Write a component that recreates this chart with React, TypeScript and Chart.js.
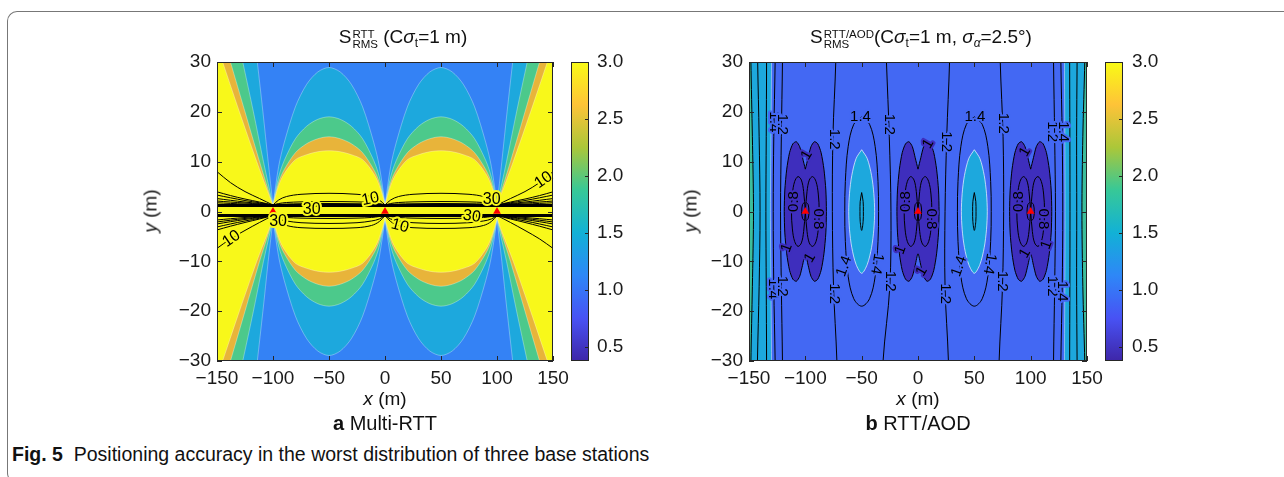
import React, { useEffect, useRef } from 'react';
import { Chart, registerables } from 'chart.js';

Chart.register(...registerables);

const FONT = '"Liberation Sans", Arial, Helvetica, sans-serif';

// ---------------- shared axes ----------------
const X_TICKS = [-150, -100, -50, 0, 50, 100, 150];
const Y_TICKS = [-30, -20, -10, 0, 10, 20, 30];
const X_RANGE = [-150, 150];
const Y_RANGE = [-30, 30];
const STATION_X = [-100, 0, 100];
const STATION_Y = [0, 0, 0];

// ---------------- colour bar ----------------
const CB_TICKS = [0.5, 1.0, 1.5, 2.0, 2.5, 3.0];
const CB_RANGE = [0.375, 3.0];
const CB_STOP_VALUES = [0.375, 0.75, 1.125, 1.5, 1.875, 2.25, 2.625, 3.0];
const CB_STOP_COLORS = ['#3E26A8', '#4852F4', '#2E87F7', '#12B1D6', '#37C897', '#ABC739', '#FEC338', '#F9FB15'];

// ---------------- (a) Multi-RTT ----------------
// filled bands between stations (upper half, mirrored below)
const RTT_HILL_CENTERS = [-50, 50];
const RTT_HILL_DX = [-50, -45, -40, -30, -20, -10, 0, 10, 20, 30, 40, 45, 50];
const RTT_HILL_BLUE = [1.2, 9.0, 13.8, 21.0, 25.5, 28.0, 28.9, 28.0, 25.5, 21.0, 13.8, 9.0, 1.2];
const RTT_HILL_GREEN = [1.2, 6.9, 10.2, 14.6, 17.1, 18.5, 19.0, 18.5, 17.1, 14.6, 10.2, 6.9, 1.2];
const RTT_HILL_ORANGE = [1.2, 5.8, 8.4, 11.8, 13.6, 14.6, 15.0, 14.6, 13.6, 11.8, 8.4, 5.8, 1.2];
const RTT_HILL_YELLOW = [1.2, 5.2, 7.6, 10.4, 11.4, 12.0, 12.2, 12.0, 11.4, 10.4, 7.6, 5.2, 1.2];
// outer wedges beyond the outer stations: outward offset of each boundary at these heights
const RTT_WEDGE_Y = [1.2, 10, 20, 30, 40];
const RTT_WEDGE_BLUE = [0, 4.3, 9, 14, 19];
const RTT_WEDGE_GREEN = [0, 8.5, 17.5, 27, 36.5];
const RTT_WEDGE_ORANGE = [0, 12, 25, 38, 51];
const RTT_WEDGE_YELLOW = [0, 14.5, 30, 45, 60];
// contour lines fanning out beyond the outer stations (left side x; right side mirrored)
const RTT_FAN_X = [-100, -112, -125, -138, -150, -160];
const RTT_FAN_UP = [
  [1.3, 2.6, 4.0, 5.8, 8.0, 9.8],
  [1.3, 1.9, 2.5, 3.2, 3.95, 4.6],
  [1.3, 1.75, 2.2, 2.75, 3.3, 3.8],
  [1.3, 1.6, 1.9, 2.25, 2.6, 2.9],
  [1.3, 1.5, 1.7, 1.9, 2.1, 2.3],
  [1.3, 1.4, 1.5, 1.62, 1.75, 1.85],
];
const RTT_FAN_DOWN = [
  [-0.8, -2.2, -3.8, -5.5, -7.4, -9.0],
  [-0.8, -1.5, -2.2, -2.95, -3.7, -4.3],
  [-0.8, -1.35, -1.9, -2.5, -3.1, -3.6],
  [-0.8, -1.2, -1.6, -2.05, -2.5, -2.9],
  [-0.8, -1.1, -1.4, -1.75, -2.1, -2.4],
  [-0.8, -1.0, -1.2, -1.45, -1.7, -1.9],
];
// contour arcs between stations
const RTT_ARC_DX = [-50, -45, -38, -25, 0, 25, 38, 45, 50];
const RTT_ARCS_UP = [
  [1.3, 2.3, 3.0, 3.45, 3.65, 3.45, 3.0, 2.3, 1.3],
  [1.3, 1.6, 1.8, 1.93, 2.0, 1.93, 1.8, 1.6, 1.3],
  [1.3, 1.42, 1.5, 1.56, 1.6, 1.56, 1.5, 1.42, 1.3],
];
const RTT_ARCS_DOWN = [
  [-0.8, -1.0, -1.2, -1.33, -1.4, -1.33, -1.2, -1.0, -0.8],
  [-0.8, -1.5, -1.9, -2.25, -2.4, -2.25, -1.9, -1.5, -0.8],
  [-0.8, -2.0, -2.8, -3.25, -3.4, -3.25, -2.8, -2.0, -0.8],
];
const RTT_THICK_Y = [1.2, -0.8];
const RTT_LABEL_TEXT = ['10', '30', '30', '10', '30', '30', '10', '10'];
const RTT_LABEL_X = [-13, -65.5, -95.5, 13.4, 77.5, 95.3, 141.6, -137];
const RTT_LABEL_Y = [2.5, 0.3, -2.1, -2.9, -1.0, 2.4, 6.3, -5.5];
const RTT_LABEL_ROT = [-12, 0, 0, 15, 8, 0, -35, -35];

// ---------------- (b) RTT/AOD ----------------
const AOD_EDGE_Y = [-40, -30, -15, 0, 15, 30, 40];
const AOD_L_STRIP = [-130, -130, -130.5, -131, -130.5, -130, -130];
const AOD_R_STRIP = [130, 130, 130.3, 130.5, 130.3, 130, 130];
const AOD_L_TEAL = [-148.5, -148.3, -147, -146, -147, -148.3, -148.5];
const AOD_R_TEAL = [148.5, 148, 146.3, 145.5, 146.3, 148, 148.5];
const AOD_EDGE_LINES = [
  [-142.8, -142.5, -141, -140.2, -141, -142.3, -142.6],
  [-134.5, -134.4, -134.7, -135, -134.7, -134.4, -134.5],
  [-126.5, -126.8, -128, -128.5, -128, -126.8, -126.5],
  [-120, -120.3, -121.3, -122, -121.3, -120.3, -120],
  [141.5, 141.2, 140.8, 140.9, 140.8, 141.2, 141.5],
  [134.6, 134.6, 134.8, 134.9, 134.8, 134.6, 134.6],
  [126.5, 126.8, 128, 128.5, 128, 126.8, 126.5],
  [120, 120.3, 121.3, 122, 121.3, 120.3, 120],
];
const AOD_HILL_LINES = [
  [-71.5, -72, -75, -76, -75.5, -73, -72.5],
  [-31.5, -31, -25, -24, -25.5, -28, -29.5],
  [27.5, 27, 24, 24, 25.5, 28, 28.5],
  [71.5, 72, 75, 76, 75.5, 73, 72.5],
];
const AOD_HILL_CENTERS = [-50, 50];
const AOD_ELL_DX = [0, 5, 8.8, 10.8, 11.5, 10.8, 8.8, 5, 0, -5, -8.8, -10.8, -11.5, -10.8, -8.8, -5, 0];
const AOD_ELL_DY = [12.4, 10.6, 7.2, 3.6, 0, -3.6, -7.2, -10.6, -12.4, -10.6, -7.2, -3.6, 0, 3.6, 7.2, 10.6, 12.4];
const AOD_L14_DX = [0, 7, 12, 14.5, 15, 14.5, 12, 7, 0, -7, -12, -14.5, -15, -14.5, -12, -7, 0];
const AOD_L14_DY = [19, 17.5, 13, 6, 0, -6, -13, -17.5, -19, -17.5, -13, -6, 0, 6, 13, 17.5, 19];
const AOD_L16_DX = [0, 1.3, 1.5, 1.3, 0, -1.3, -1.5, -1.3, 0];
const AOD_L16_DY = [3.8, 2, 0, -2, -3.8, -2, 0, 2, 3.8];
const AOD_LOBE_DX = [0, 2.5, 5, 8, 11, 14, 16.5, 18.2, 18.7, 18.2, 16.5, 14, 11, 8, 5, 2.5, 0, -2.5, -5, -8, -11, -14, -16.5, -18.2, -18.7, -18.2, -16.5, -14, -11, -8, -5, -2.5];
const AOD_LOBE_DY = [8.5, 10.8, 13, 14, 13.6, 11.8, 8.5, 4.3, 0, -4.3, -8.5, -11.8, -13.6, -14, -13, -10.8, -8.5, -10.8, -13, -14, -13.6, -11.8, -8.5, -4.3, 0, 4.3, 8.5, 11.8, 13.6, 14, 13, 10.8];
const AOD_L08_DX = [0, 1.5, 3.5, 6.5, 9.5, 11.5, 12.3, 11.5, 9.5, 6.5, 3.5, 1.5, 0];
const AOD_L08_DY = [0, 4, 6.3, 7, 6, 3.5, 0, -3.5, -6, -7, -6.3, -4, 0];
const AOD_L06_DX = [1, 2.5, 3.2, 2.5, 1];
const AOD_L06_DY = [1.8, 1.4, 0, -1.4, -1.8];
const AOD_LABEL_TEXT = ['1.4', '1.2', '1.4', '1.2', '1.2', '1.2', '1.4', '1.4', '1.4', '1.2', '1.2', '1.2', '1.2', '1.4', '1.4', '1.4', '1.2', '1.2', '1.2', '1.4', '1.2', '1.4',
  '0.8', '0.8', '1', '1', '1', '0.8', '0.8', '1', '1', '1', '0.8', '0.8', '1', '1', '1'];
const AOD_LABEL_X = [-128, -120.5, -129, -120.5, -74.5, -74.5, -51, -65.5, -36.5, -25.5, -24.5, 25, 24, 50.5, 36.5, 63.5, 75.5, 74.8, 119.5, 128.5, 119, 128,
  -110.5, -88.5, -98.8, -116.5, -95.8, -10.5, 11.5, 9.2, -15.5, 3.3, 89.5, 111.5, 95, 114, 95];
const AOD_LABEL_Y = [18, 17.5, -15.5, -15, 14.5, -16.5, 19, -11, -10.5, 17.5, -14, 14, -16.5, 19, -11, -10.5, 17.7, -14, 16, 16, -15, -16,
  2, -1.5, 11.3, -7.3, -9.3, 2, -1.5, 13.6, -7.7, -12, 2, -1.5, 12, -6.7, -8.4];
const AOD_LABEL_ROT = [90, 90, 90, 90, 90, 90, 0, -70, 100, 90, 90, 90, 90, 0, -70, 100, 90, 90, 90, 90, 90, 90,
  -90, 90, -60, -70, -60, -90, 90, -60, -70, -60, -90, 90, -60, -70, -60];
const AOD_LABEL_ON_LOBE = [0, 0, 0, 0, 0, 0, 0, 0, 0, 0, 0, 0, 0, 0, 0, 0, 0, 0, 0, 0, 0, 0,
  1, 1, 1, 1, 1, 1, 1, 1, 1, 1, 1, 1, 1, 1, 1];

// ---------------- styles ----------------
const RTT_COL = { deep: '#3482F5', light: '#1DA8DD', green: '#4CC98B', orange: '#E8B43A', yellow: '#F8F81A' };
const AOD_COL = { mid: '#4368F3', dark: '#3E2EBD', light: '#1DA8DD', teal: '#3DBE9C' };
const EDGE = 'rgba(255,255,255,0.45)';
const NONE = 'rgba(0,0,0,0)';
const INK = '#1a1a1a';

type XY = { x: number; y: number };
const zip = (xs: number[], ys: number[]): XY[] => xs.map((x, i) => ({ x, y: ys[i] }));
const rect = (x0: number, x1: number, y0: number, y1: number): XY[] => [
  { x: x0, y: y0 }, { x: x1, y: y0 }, { x: x1, y: y1 }, { x: x0, y: y1 }, { x: x0, y: y0 },
];

function shape(data: XY[], color: string, edge = EDGE, edgeW = 0.7, tension = 0.3) {
  return { data, fill: 'shape', backgroundColor: color, borderColor: edge, borderWidth: edgeW, pointRadius: 0, tension, clip: 0 };
}
function line(data: XY[], width = 1, color = '#000', tension = 0.35) {
  return { data, fill: false, borderColor: color, borderWidth: width, pointRadius: 0, tension, clip: 0 };
}
function markers() {
  return {
    data: zip(STATION_X, STATION_Y), showLine: false, pointStyle: 'triangle', pointRadius: 4.5,
    pointBackgroundColor: '#FF0000', pointBorderColor: '#FF0000', pointBorderWidth: 0, clip: 0,
  };
}
function ordered(sets: any[]) {
  sets.forEach((d, i) => { d.order = 10000 - i; });
  return sets;
}

function rttDatasets() {
  const out: any[] = [];
  out.push(shape(rect(-175, 175, -40, 40), RTT_COL.deep, NONE, 0, 0));
  const bands: [number[], number[], string][] = [
    [RTT_HILL_BLUE, RTT_WEDGE_BLUE, RTT_COL.light],
    [RTT_HILL_GREEN, RTT_WEDGE_GREEN, RTT_COL.green],
    [RTT_HILL_ORANGE, RTT_WEDGE_ORANGE, RTT_COL.orange],
    [RTT_HILL_YELLOW, RTT_WEDGE_YELLOW, RTT_COL.yellow],
  ];
  const outer = [STATION_X[0], STATION_X[2]];
  for (const [hill, wedge, col] of bands) {
    for (const c of RTT_HILL_CENTERS) {
      const up = RTT_HILL_DX.map((d, i) => ({ x: c + d, y: hill[i] }));
      const dn = RTT_HILL_DX.map((d, i) => ({ x: c + d, y: -hill[i] })).reverse();
      out.push(shape([...up, ...dn, up[0]], col));
    }
    for (const sx of outer) {
      const s = Math.sign(sx);
      const up = RTT_WEDGE_Y.map((y, i) => ({ x: sx + s * wedge[i], y }));
      const dn = RTT_WEDGE_Y.map((y, i) => ({ x: sx + s * wedge[i], y: -y })).reverse();
      out.push(shape([...up, { x: s * 175, y: 40 }, { x: s * 175, y: -40 }, ...dn, up[0]], col));
    }
  }
  out.push(shape(rect(-175, 175, RTT_THICK_Y[1], RTT_THICK_Y[0]), RTT_COL.yellow, NONE, 0, 0));
  for (const s of [1, -1]) {
    for (const arr of [...RTT_FAN_UP, ...RTT_FAN_DOWN]) {
      out.push(line(RTT_FAN_X.map((x, i) => ({ x: s * x, y: arr[i] }))));
    }
  }
  for (const c of RTT_HILL_CENTERS) {
    for (const arr of [...RTT_ARCS_UP, ...RTT_ARCS_DOWN]) {
      out.push(line(RTT_ARC_DX.map((d, i) => ({ x: c + d, y: arr[i] }))));
    }
  }
  for (const y of RTT_THICK_Y) out.push(line([{ x: -150, y }, { x: 150, y }], 3, '#000', 0));
  out.push(markers());
  return ordered(out);
}

function aodDatasets() {
  const out: any[] = [];
  out.push(shape(rect(-175, 175, -40, 40), AOD_COL.mid, NONE, 0, 0));
  const y0 = AOD_EDGE_Y[0];
  out.push(shape([...zip(AOD_L_STRIP, AOD_EDGE_Y), { x: -175, y: 40 }, { x: -175, y: -40 }, { x: AOD_L_STRIP[0], y: y0 }], AOD_COL.light, 'rgba(255,255,255,0.55)', 0.8));
  out.push(shape([...zip(AOD_R_STRIP, AOD_EDGE_Y), { x: 175, y: 40 }, { x: 175, y: -40 }, { x: AOD_R_STRIP[0], y: y0 }], AOD_COL.light, 'rgba(255,255,255,0.55)', 0.8));
  out.push(shape([...zip(AOD_L_TEAL, AOD_EDGE_Y), { x: -175, y: 40 }, { x: -175, y: -40 }, { x: AOD_L_TEAL[0], y: y0 }], AOD_COL.teal, '#000', 1));
  out.push(shape([...zip(AOD_R_TEAL, AOD_EDGE_Y), { x: 175, y: 40 }, { x: 175, y: -40 }, { x: AOD_R_TEAL[0], y: y0 }], AOD_COL.teal, '#000', 1));
  for (const c of AOD_HILL_CENTERS) {
    out.push(shape(zip(AOD_ELL_DX.map((d) => c + d), AOD_ELL_DY), AOD_COL.light, 'rgba(255,255,255,0.75)', 0.9));
  }
  for (const c of STATION_X) {
    const pts = zip(AOD_LOBE_DX.map((d) => c + d), AOD_LOBE_DY);
    out.push(shape([...pts, pts[0]], AOD_COL.dark, '#000', 1, 0.25));
  }
  for (const xs of AOD_EDGE_LINES) out.push(line(zip(xs, AOD_EDGE_Y)));
  for (const xs of AOD_HILL_LINES) out.push(line(zip(xs, AOD_EDGE_Y)));
  for (const c of AOD_HILL_CENTERS) {
    out.push(line(zip(AOD_L14_DX.map((d) => c + d), AOD_L14_DY)));
    out.push(line(zip(AOD_L16_DX.map((d) => c + d), AOD_L16_DY)));
  }
  for (const c of STATION_X) {
    for (const s of [1, -1]) {
      out.push(line(zip(AOD_L08_DX.map((d) => c + s * d), AOD_L08_DY)));
      out.push(line(zip(AOD_L06_DX.map((d) => c + s * d), AOD_L06_DY)));
    }
  }
  out.push(markers());
  return ordered(out);
}

function rttLabels() {
  return RTT_LABEL_TEXT.map((t, i) => ({ t, x: RTT_LABEL_X[i], y: RTT_LABEL_Y[i], r: RTT_LABEL_ROT[i], bg: RTT_COL.yellow }));
}
function aodLabels() {
  return AOD_LABEL_TEXT.map((t, i) => ({
    t, x: AOD_LABEL_X[i], y: AOD_LABEL_Y[i], r: AOD_LABEL_ROT[i], bg: AOD_LABEL_ON_LOBE[i] ? AOD_COL.dark : AOD_COL.mid,
  }));
}

const fmtTick = (v: number) => (v < 0 ? '\u2212' + Math.abs(v) : String(v));

function labelPlugin(items: any[], size: number) {
  return {
    id: 'clabels',
    afterDatasetsDraw(chart: any) {
      const { ctx, scales } = chart;
      ctx.save();
      ctx.font = `${size}px ${FONT}`;
      ctx.textAlign = 'center';
      ctx.textBaseline = 'middle';
      ctx.lineJoin = 'round';
      for (const it of items) {
        const px = scales.x.getPixelForValue(it.x);
        const py = scales.y.getPixelForValue(it.y);
        ctx.save();
        ctx.translate(px, py);
        ctx.rotate((it.r * Math.PI) / 180);
        ctx.lineWidth = 4;
        ctx.strokeStyle = it.bg;
        ctx.strokeText(it.t, 0, 0);
        ctx.fillStyle = '#000';
        ctx.fillText(it.t, 0, 0);
        ctx.restore();
      }
      ctx.restore();
    },
  };
}

const framePlugin = {
  id: 'frame',
  afterDatasetsDraw(chart: any) {
    const { ctx, chartArea: a, scales } = chart;
    ctx.save();
    ctx.strokeStyle = '#262626';
    ctx.lineWidth = 1;
    ctx.strokeRect(a.left + 0.5, a.top + 0.5, a.right - a.left - 1, a.bottom - a.top - 1);
    const tl = 5;
    ctx.beginPath();
    for (const v of X_TICKS) {
      const px = Math.round(scales.x.getPixelForValue(v)) + 0.5;
      ctx.moveTo(px, a.bottom); ctx.lineTo(px, a.bottom - tl);
      ctx.moveTo(px, a.top); ctx.lineTo(px, a.top + tl);
    }
    for (const v of Y_TICKS) {
      const py = Math.round(scales.y.getPixelForValue(v)) + 0.5;
      ctx.moveTo(a.left, py); ctx.lineTo(a.left + tl, py);
      ctx.moveTo(a.right, py); ctx.lineTo(a.right - tl, py);
    }
    ctx.stroke();
    ctx.restore();
  },
};

const cbFramePlugin = {
  id: 'cbframe',
  afterDatasetsDraw(chart: any) {
    const { ctx, chartArea: a, scales } = chart;
    ctx.save();
    ctx.strokeStyle = '#262626';
    ctx.lineWidth = 1;
    ctx.strokeRect(a.left + 0.5, a.top + 0.5, a.right - a.left - 1, a.bottom - a.top - 1);
    ctx.beginPath();
    for (const v of CB_TICKS) {
      const py = Math.round(scales.y.getPixelForValue(v)) + 0.5;
      ctx.moveTo(a.right, py); ctx.lineTo(a.right - 4, py);
    }
    ctx.stroke();
    ctx.restore();
  },
};

function ContourPanel({ left, top, padRight, kind }: any) {
  const ref = useRef<HTMLCanvasElement>(null);
  useEffect(() => {
    const datasets = kind === 'rtt' ? rttDatasets() : aodDatasets();
    const labels = kind === 'rtt' ? rttLabels() : aodLabels();
    const tickFont = { family: FONT, size: 19 };
    const chart = new Chart(ref.current as HTMLCanvasElement, {
      type: 'line',
      data: { datasets } as any,
      options: {
        responsive: false,
        animation: false,
        events: [],
        devicePixelRatio: 1,
        layout: { padding: { left: 7, right: padRight, top: 22, bottom: 9 } },
        elements: { line: { capBezierPoints: false } },
        plugins: { legend: { display: false }, tooltip: { enabled: false } },
        scales: {
          x: {
            type: 'linear', min: X_RANGE[0], max: X_RANGE[1],
            afterBuildTicks: (s: any) => { s.ticks = X_TICKS.map((value) => ({ value })); },
            afterFit: (s: any) => { s.height = 40; },
            ticks: { callback: (v: any) => fmtTick(Number(v)), font: tickFont, color: INK, padding: 6, maxRotation: 0, autoSkip: false },
            grid: { display: false, drawTicks: false },
            border: { display: false },
          },
          y: {
            type: 'linear', min: Y_RANGE[0], max: Y_RANGE[1],
            afterBuildTicks: (s: any) => { s.ticks = Y_TICKS.map((value) => ({ value })); },
            afterFit: (s: any) => { s.width = 70; },
            ticks: { callback: (v: any) => fmtTick(Number(v)), font: tickFont, color: INK, padding: 6, autoSkip: false },
            grid: { display: false, drawTicks: false },
            border: { display: false },
          },
        },
      } as any,
      plugins: [labelPlugin(labels, kind === 'rtt' ? 16 : 15), framePlugin],
    });
    return () => chart.destroy();
  }, [kind]);
  return <canvas ref={ref} width={440} height={370} style={{ position: 'absolute', left, top, width: 440, height: 370 }} />;
}

function ColorBar({ left, top, labelPad }: any) {
  const ref = useRef<HTMLCanvasElement>(null);
  useEffect(() => {
    const chart = new Chart(ref.current as HTMLCanvasElement, {
      type: 'bar',
      data: {
        labels: [''],
        datasets: [{
          data: [[CB_RANGE[0], CB_RANGE[1]]],
          backgroundColor: (c: any) => {
            const ch = c.chart;
            if (!ch.chartArea) return CB_STOP_COLORS[0];
            const ys = ch.scales.y;
            const g = ch.ctx.createLinearGradient(0, ys.getPixelForValue(CB_RANGE[0]), 0, ys.getPixelForValue(CB_RANGE[1]));
            CB_STOP_VALUES.forEach((v, i) => g.addColorStop((v - CB_RANGE[0]) / (CB_RANGE[1] - CB_RANGE[0]), CB_STOP_COLORS[i]));
            return g;
          },
          borderWidth: 0,
          barPercentage: 1,
          categoryPercentage: 1,
        }],
      } as any,
      options: {
        responsive: false,
        animation: false,
        events: [],
        devicePixelRatio: 1,
        layout: { padding: { left: 11, right: 0, top: 22, bottom: 49 } },
        plugins: { legend: { display: false }, tooltip: { enabled: false } },
        scales: {
          x: { display: false },
          y: {
            position: 'right', min: CB_RANGE[0], max: CB_RANGE[1],
            afterBuildTicks: (s: any) => { s.ticks = CB_TICKS.map((value) => ({ value })); },
            afterFit: (s: any) => { s.width = 41; },
            ticks: { callback: (v: any) => Number(v).toFixed(1), font: { family: FONT, size: 19 }, color: INK, padding: labelPad },
            grid: { display: false, drawTicks: false },
            border: { display: false },
          },
        },
      } as any,
      plugins: [cbFramePlugin],
    });
    return () => chart.destroy();
  }, []);
  return <canvas ref={ref} width={70} height={370} style={{ position: 'absolute', left, top, width: 70, height: 370 }} />;
}

const Txt = ({ cx, cy, size = 19, rotate = 0, children, align = 'center' }: any) => (
  <div style={{
    position: 'absolute', left: cx, top: cy, whiteSpace: 'nowrap', fontSize: size, lineHeight: 1,
    transform: align === 'center' ? `translate(-50%,-50%) rotate(${rotate}deg)` : 'translateY(-50%)',
  }}>{children}</div>
);

const Stack = ({ top, bottom }: any) => (
  <span style={{ display: 'inline-block', verticalAlign: '-5px', fontSize: 11.5, lineHeight: '10.5px', textAlign: 'left', marginLeft: 1 }}>
    {top}<br />{bottom}
  </span>
);
const Sub = ({ children }: any) => (
  <span style={{ fontSize: 12, position: 'relative', top: 4 }}>{children}</span>
);

export default function App() {
  return (
    <div style={{ position: 'fixed', left: 0, top: 0, width: 1284, height: 477, background: '#fff', overflow: 'hidden', fontFamily: FONT, color: '#111' }}>
      <div style={{
        position: 'absolute', left: 7, top: 11, width: 1320, height: 472, boxSizing: 'border-box',
        borderTop: '1.5px solid #777', borderLeft: '1.5px solid #777', borderBottom: '1.5px solid #777', borderRadius: '10px 0 0 10px',
      }} />
      <ContourPanel kind="rtt" left={140} top={40} padRight={27} />
      <ColorBar left={560} top={40} labelPad={8} />
      <ContourPanel kind="aod" left={672} top={40} padRight={25} />
      <ColorBar left={1094} top={40} labelPad={9} />

      <Txt cx={403} cy={38} size={19}>S<Stack top="RTT" bottom="RMS" /> (C<i>σ</i><Sub>t</Sub>=1 m)</Txt>
      <Txt cx={921} cy={38} size={19}>S<Stack top="RTT/AOD" bottom="RMS" />(C<i>σ</i><Sub>t</Sub>=1 m, <i>σ</i><Sub><i>α</i></Sub>=2.5°)</Txt>

      <Txt cx={150} cy={211} rotate={-90}><i>y</i> (m)</Txt>
      <Txt cx={690} cy={211} rotate={-90}><i>y</i> (m)</Txt>
      <Txt cx={385} cy={398}><i>x</i> (m)</Txt>
      <Txt cx={918} cy={398}><i>x</i> (m)</Txt>
      <Txt cx={385} cy={423} size={20}><b>a</b> Multi-RTT</Txt>
      <Txt cx={918} cy={423} size={20}><b>b</b> RTT/AOD</Txt>
      <Txt cx={12} cy={455} size={19.5} align="left"><b>Fig. 5</b>&nbsp;&nbsp;Positioning accuracy in the worst distribution of three base stations</Txt>
    </div>
  );
}
